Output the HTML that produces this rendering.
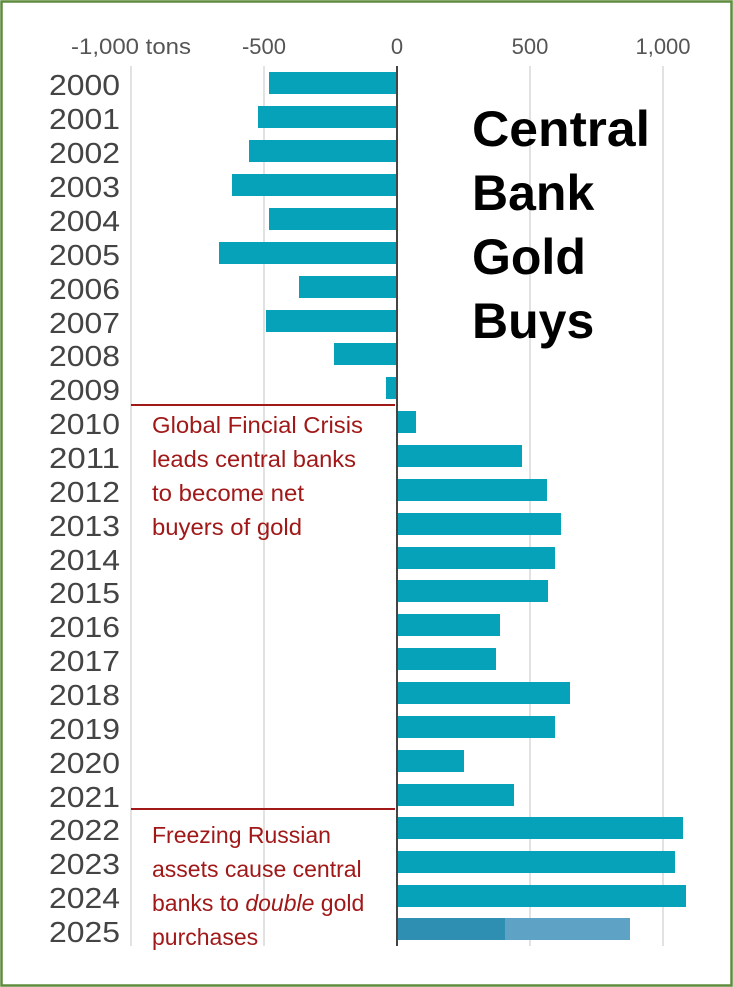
<!DOCTYPE html>
<html><head><meta charset="utf-8"><style>
html,body{margin:0;padding:0;background:#fff;}
svg{display:block;}
</style></head><body>
<svg width="733" height="987" xmlns="http://www.w3.org/2000/svg">
<rect x="1.5" y="1.5" width="730" height="984" fill="#fff" stroke="#5f8c3c" stroke-width="2.5"/>
<g stroke="#e2e2e2" stroke-width="2">
<line x1="131" y1="66" x2="131" y2="946"/>
<line x1="264" y1="66" x2="264" y2="946"/>
<line x1="530" y1="66" x2="530" y2="946"/>
<line x1="663" y1="66" x2="663" y2="946"/>
</g>
<g font-family="Liberation Sans, sans-serif" font-size="22" fill="#555" text-anchor="middle">
<text x="131" y="54" textLength="120" lengthAdjust="spacingAndGlyphs">-1,000 tons</text>
<text x="264" y="54">-500</text>
<text x="397" y="54">0</text>
<text x="530" y="54">500</text>
<text x="663" y="54">1,000</text>
</g>
<g fill="#05a2ba">
<rect x="269" y="72" width="128" height="22"/>
<rect x="258" y="106" width="139" height="22"/>
<rect x="249" y="140" width="148" height="22"/>
<rect x="232" y="174" width="165" height="22"/>
<rect x="269" y="208" width="128" height="22"/>
<rect x="219" y="242" width="178" height="22"/>
<rect x="299" y="276" width="98" height="22"/>
<rect x="266" y="310" width="131" height="22"/>
<rect x="334" y="343" width="63" height="22"/>
<rect x="386" y="377" width="11" height="22"/>
<rect x="397" y="411" width="19" height="22"/>
<rect x="397" y="445" width="125" height="22"/>
<rect x="397" y="479" width="150" height="22"/>
<rect x="397" y="513" width="164" height="22"/>
<rect x="397" y="547" width="158" height="22"/>
<rect x="397" y="580" width="151" height="22"/>
<rect x="397" y="614" width="103" height="22"/>
<rect x="397" y="648" width="99" height="22"/>
<rect x="397" y="682" width="173" height="22"/>
<rect x="397" y="716" width="158" height="22"/>
<rect x="397" y="750" width="67" height="22"/>
<rect x="397" y="784" width="117" height="22"/>
<rect x="397" y="817" width="286" height="22"/>
<rect x="397" y="851" width="278" height="22"/>
<rect x="397" y="885" width="289" height="22"/>
</g>
<rect x="397" y="918" width="108" height="22" fill="#2e8fb3"/>
<rect x="505" y="918" width="125" height="22" fill="#5ea3c5"/>
<line x1="397" y1="66" x2="397" y2="946" stroke="#444" stroke-width="2"/>
<g stroke="#a01818" stroke-width="2">
<line x1="131" y1="405" x2="395" y2="405"/>
<line x1="131" y1="809" x2="395" y2="809"/>
</g>
<g font-family="Liberation Sans, sans-serif" font-size="29" fill="#444" text-anchor="end">
<text x="120" y="95" textLength="71" lengthAdjust="spacingAndGlyphs">2000</text><text x="120" y="129" textLength="71" lengthAdjust="spacingAndGlyphs">2001</text><text x="120" y="163" textLength="71" lengthAdjust="spacingAndGlyphs">2002</text>
<text x="120" y="197" textLength="71" lengthAdjust="spacingAndGlyphs">2003</text><text x="120" y="231" textLength="71" lengthAdjust="spacingAndGlyphs">2004</text><text x="120" y="265" textLength="71" lengthAdjust="spacingAndGlyphs">2005</text>
<text x="120" y="299" textLength="71" lengthAdjust="spacingAndGlyphs">2006</text><text x="120" y="333" textLength="71" lengthAdjust="spacingAndGlyphs">2007</text><text x="120" y="366" textLength="71" lengthAdjust="spacingAndGlyphs">2008</text>
<text x="120" y="400" textLength="71" lengthAdjust="spacingAndGlyphs">2009</text><text x="120" y="434" textLength="71" lengthAdjust="spacingAndGlyphs">2010</text><text x="120" y="468" textLength="71" lengthAdjust="spacingAndGlyphs">2011</text>
<text x="120" y="502" textLength="71" lengthAdjust="spacingAndGlyphs">2012</text><text x="120" y="536" textLength="71" lengthAdjust="spacingAndGlyphs">2013</text><text x="120" y="570" textLength="71" lengthAdjust="spacingAndGlyphs">2014</text>
<text x="120" y="603" textLength="71" lengthAdjust="spacingAndGlyphs">2015</text><text x="120" y="637" textLength="71" lengthAdjust="spacingAndGlyphs">2016</text><text x="120" y="671" textLength="71" lengthAdjust="spacingAndGlyphs">2017</text>
<text x="120" y="705" textLength="71" lengthAdjust="spacingAndGlyphs">2018</text><text x="120" y="739" textLength="71" lengthAdjust="spacingAndGlyphs">2019</text><text x="120" y="773" textLength="71" lengthAdjust="spacingAndGlyphs">2020</text>
<text x="120" y="807" textLength="71" lengthAdjust="spacingAndGlyphs">2021</text><text x="120" y="840" textLength="71" lengthAdjust="spacingAndGlyphs">2022</text><text x="120" y="874" textLength="71" lengthAdjust="spacingAndGlyphs">2023</text>
<text x="120" y="908" textLength="71" lengthAdjust="spacingAndGlyphs">2024</text><text x="120" y="942" textLength="71" lengthAdjust="spacingAndGlyphs">2025</text>
</g>
<g font-family="Liberation Sans, sans-serif" font-size="50" font-weight="bold" fill="#000">
<text x="472" y="146" textLength="178" lengthAdjust="spacingAndGlyphs">Central</text>
<text x="472" y="210">Bank</text>
<text x="472" y="274">Gold</text>
<text x="472" y="338">Buys</text>
</g>
<g font-family="Liberation Sans, sans-serif" font-size="23" fill="#a01818">
<text x="152" y="433" textLength="211" lengthAdjust="spacingAndGlyphs">Global Fincial Crisis</text>
<text x="152" y="467" textLength="204" lengthAdjust="spacingAndGlyphs">leads central banks</text>
<text x="152" y="501" textLength="152" lengthAdjust="spacingAndGlyphs">to become net</text>
<text x="152" y="535" textLength="150" lengthAdjust="spacingAndGlyphs">buyers of gold</text>
<text x="152" y="843">Freezing Russian</text>
<text x="152" y="877">assets cause central</text>
<text x="152" y="911">banks to <tspan font-style="italic">double</tspan> gold</text>
<text x="152" y="945">purchases</text>
</g>
</svg>
</body></html>
